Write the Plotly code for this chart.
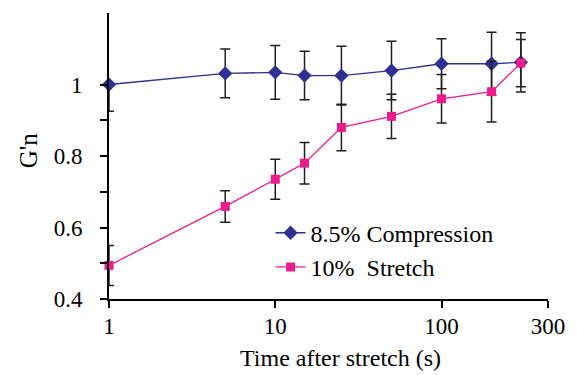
import plotly.graph_objects as go
import math

# Data
time_s = [1, 5, 10, 15, 25, 50, 100, 200, 300]
compression = [1.000, 1.031, 1.034, 1.025, 1.025, 1.039, 1.058, 1.058, 1.062]
compression_err_plus = [0.0, 0.068, 0.075, 0.068, 0.082, 0.082, 0.070, 0.088, 0.083]
compression_err_minus = [0.075, 0.068, 0.075, 0.068, 0.082, 0.082, 0.070, 0.088, 0.083]
stretch = [0.494, 0.659, 0.735, 0.780, 0.880, 0.911, 0.960, 0.980, 1.060]
stretch_err = [0.056, 0.044, 0.056, 0.058, 0.065, 0.062, 0.068, 0.085, 0.066]

series_names = ["8.5% Compression", "10%  Stretch"]

x_tickvals = [1, 10, 100, 437]
x_ticktext = ["1", "10", "100", "300"]
x_range_max = 437
y_tickvals = [0.4, 0.5, 0.6, 0.7, 0.8, 0.9, 1.0]
y_ticktext = ["0.4", "", "0.6", "", "0.8", "", "1"]
y_range = [0.4, 1.2]

FONT = "Liberation Serif, Times New Roman, serif"
BLUE = "#2E3192"
PINK = "#EC1C8C"
ERR = "#231F20"

fig = go.Figure()
fig.add_trace(go.Scatter(
    x=time_s, y=compression, name=series_names[0], mode="lines+markers",
    line=dict(color=BLUE, width=1.3),
    marker=dict(symbol="diamond", size=11, color=BLUE),
    error_y=dict(type="data", symmetric=False, array=compression_err_plus,
                 arrayminus=compression_err_minus, color=ERR, thickness=1.5, width=5),
    cliponaxis=False,
))
fig.add_trace(go.Scatter(
    x=time_s, y=stretch, name=series_names[1], mode="lines+markers",
    line=dict(color=PINK, width=1.3),
    marker=dict(symbol="square", size=9, color=PINK),
    error_y=dict(type="data", array=stretch_err, color=ERR, thickness=1.5, width=5),
    cliponaxis=False,
))

fig.update_layout(
    width=577, height=375,
    margin=dict(l=109, r=27, t=13, b=76, pad=0),
    plot_bgcolor="white", paper_bgcolor="white",
    font=dict(family=FONT, size=23, color="black"),
    showlegend=True,
    legend=dict(x=0.368, y=0.309, xanchor="left", yanchor="top",
                bgcolor="rgba(0,0,0,0)", font=dict(size=24, family=FONT),
                itemwidth=30, tracegroupgap=0),
    xaxis=dict(type="log", range=[0, math.log10(x_range_max)],
               tickmode="array", tickvals=x_tickvals, ticktext=x_ticktext,
               ticks="outside", ticklen=7, tickwidth=1.5, tickcolor="black",
               showline=True, linecolor="black", linewidth=1.8,
               showgrid=False, zeroline=False, ticklabelstandoff=-2),
    yaxis=dict(range=y_range, tickmode="array", tickvals=y_tickvals, ticktext=y_ticktext,
               ticks="outside", ticklen=7, tickwidth=1.5, tickcolor="black",
               showline=True, linecolor="black", linewidth=2,
               showgrid=False, zeroline=False, ticklabelstandoff=13),
    annotations=[
        dict(text="Time after stretch (s)", xref="paper", yref="paper",
             x=(342 - 109) / 441, y=(299 - 358) / 286, xanchor="center", yanchor="middle",
             showarrow=False, font=dict(size=24, family=FONT)),
        dict(text="G'n", xref="paper", yref="paper", textangle=-90,
             x=(28 - 109) / 441, y=(299 - 150) / 286, xanchor="center", yanchor="middle",
             showarrow=False, font=dict(size=25, family=FONT)),
    ],
)

fig.write_html("out.html")
